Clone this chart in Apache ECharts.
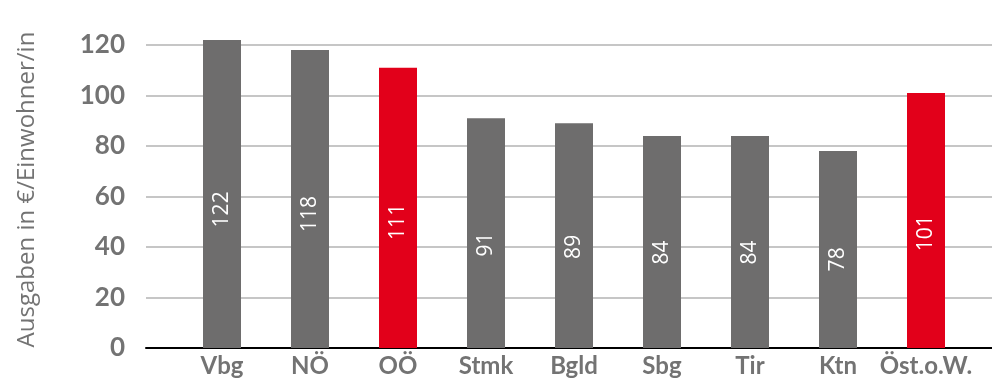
<!DOCTYPE html>
<html>
<head>
<meta charset="utf-8">
<script src="https://cdn.jsdelivr.net/npm/echarts@6/dist/echarts.min.js"></script>
<style>
  html, body { margin: 0; padding: 0; background: #fff; }
  #chart { width: 992px; height: 381px; }
</style>
</head>
<body>
<div id="chart"></div>
<script>
// Ausgaben je Bundesland
const categories = ['Vbg', 'NÖ', 'OÖ', 'Stmk', 'Bgld', 'Sbg', 'Tir', 'Ktn', 'Öst.o.W.'];
const values = [122, 118, 111, 91, 89, 84, 84, 78, 101];
const highlighted = ['OÖ', 'Öst.o.W.'];
const yName = 'Ausgaben in €/Einwohner/in';

const GREY = '#6e6d6d';
const RED = '#e2001a';
const LABEL = '#737373';

const chart = echarts.init(document.getElementById('chart'));

const barData = values.map((v, i) => ({
    value: v,
    itemStyle: { color: highlighted.indexOf(categories[i]) >= 0 ? RED : GREY }
}));

chart.setOption({
    animation: false,
    grid: [
        // background grid: gridlines, y labels, base line
        { left: 146, right: 0, top: 45, bottom: 33 },
        // bars
        { left: 178, right: 22, top: 45, bottom: 33 }
    ],
    xAxis: [
        {
            gridIndex: 0,
            type: 'category',
            data: [''],
            axisLine: { show: true, lineStyle: { color: '#000', width: 2 } },
            axisTick: { show: false },
            axisLabel: { show: false }
        },
        {
            gridIndex: 1,
            type: 'category',
            data: categories,
            axisLine: { show: false },
            axisTick: { show: false },
            axisLabel: {
                interval: 0,
                color: LABEL,
                fontFamily: 'Lato',
                fontWeight: 'bold',
                fontSize: 24,
                margin: 6
            }
        }
    ],
    yAxis: [
        {
            gridIndex: 0,
            type: 'value',
            min: 0,
            max: 120,
            interval: 20,
            name: yName,
            nameLocation: 'middle',
            nameGap: 107,
            nameTextStyle: {
                color: LABEL,
                fontFamily: 'Open Sans',
                fontSize: 24,
                padding: [0, 0, 0, 14]
            },
            axisLine: { show: false },
            axisTick: { show: false },
            axisLabel: {
                color: LABEL,
                fontFamily: 'Lato',
                fontWeight: 'bold',
                fontSize: 26,
                margin: 21
            },
            splitLine: { lineStyle: { color: '#b3b3b3', width: 1.5 } }
        },
        {
            gridIndex: 1,
            type: 'value',
            min: 0,
            max: 120,
            interval: 20,
            show: false,
            splitLine: { show: false }
        }
    ],
    series: [{
        type: 'bar',
        xAxisIndex: 1,
        yAxisIndex: 1,
        data: barData,
        barWidth: 38,
        clip: false,
        label: {
            show: true,
            position: ['50%', '55%'],
            rotate: 90,
            align: 'center',
            verticalAlign: 'middle',
            color: '#fff',
            fontFamily: 'Open Sans',
            fontSize: 21
        }
    }]
});
</script>
</body>
</html>
